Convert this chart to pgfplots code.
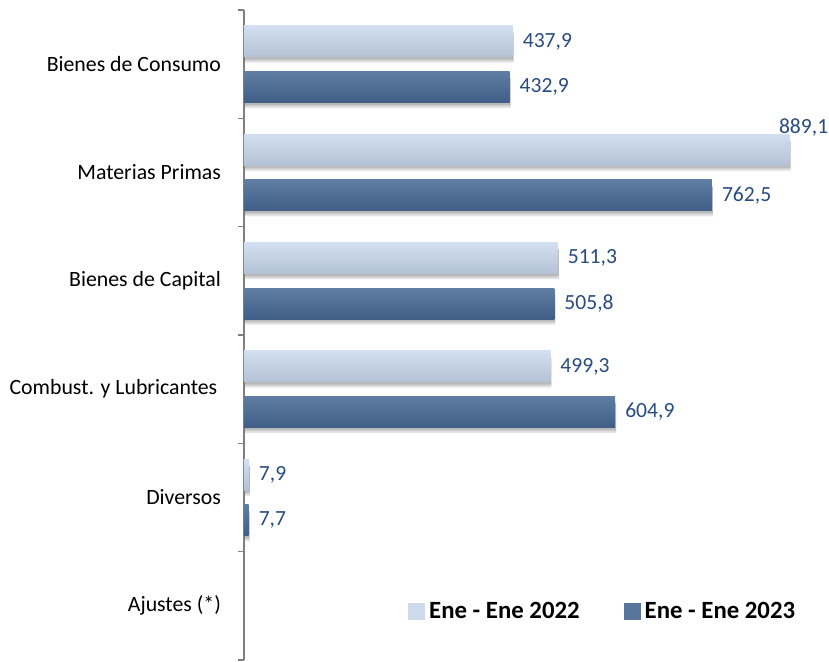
\documentclass[border=0pt]{standalone}
\usepackage{fontspec}
\setmainfont{Carlito}
\usepackage{pgfplots}
\pgfplotsset{compat=1.18}
\definecolor{lightTop}{RGB}{210,223,240}
\definecolor{lightBot}{RGB}{180,194,213}
\definecolor{darkTop}{RGB}{96,125,163}
\definecolor{darkBot}{RGB}{64,94,134}
\definecolor{legLight}{RGB}{205,218,236}
\definecolor{legDark}{RGB}{88,118,155}
\definecolor{valBlue}{RGB}{40,75,128}

\pgfplotsset{
    lightbar/.style={draw=none, top color=lightTop, bottom color=lightBot, bar shift=0.21, forget plot},
    darkbar/.style={draw=none, top color=darkTop, bottom color=darkBot, bar shift=-0.21, forget plot},
    shadowbar/.style={draw=none, fill=black, fill opacity=0.1, nodes near coords={}, xshift=0.5pt, forget plot},
}

\begin{document}
\begin{tikzpicture}
    \useasboundingbox (-122pt,-1pt) rectangle (292.5pt,330pt);
    \begin{axis}[
            at={(0,0)},
            anchor=south west,
            scale only axis,
            width=291.5pt,
            height=325pt,
            xmin=0, xmax=950,
            ymin=-0.5, ymax=5.5,
            axis x line=none,
            axis y line*=left,
            axis line style={black!50, line width=0.75pt},
            ytick={0,1,2,3,4,5},
            yticklabels={Ajustes (*), Diversos, Combust. y Lubricantes\,, Bienes de Capital, Materias Primas, Bienes de Consumo},
            major tick length=0pt,
            yticklabel style={font=\fontsize{10.9}{13}\selectfont, anchor=east, xshift=-8pt},
            extra y ticks={-0.5,0.5,1.5,2.5,3.5,4.5,5.5},
            extra y tick labels={},
            extra y tick style={major tick length=3pt, tick align=outside, tick style={black!50, line width=0.75pt}},
            xbar,
            bar width=0.285,
            point meta=x,
            nodes near coords={\pgfmathprintnumber[use comma, fixed, fixed zerofill, precision=1, assume math mode=true]{\pgfplotspointmeta}},
            nodes near coords style={font=\fontsize{10.8}{13}\selectfont, text=valBlue, xshift=1.5pt},
            clip=false,
            legend style={draw=none, fill=none, at={(0.617,0.074)}, anchor=center,
                    legend columns=2, font=\bfseries\fontsize{12.4}{14}\selectfont,
                    /tikz/every even column/.append style={column sep=20pt}},
            legend image code/.code={\fill[#1] (0pt,-4.25pt) rectangle (8.5pt,4.25pt);},
        ]

        % soft shadows under the bars
        \addplot[shadowbar, bar shift=0.155, bar width=0.28] coordinates {(437.9,5) (889.1,4) (511.3,3) (499.3,2) (7.9,1)};
        \addplot[shadowbar, bar shift=0.16, bar width=0.26] coordinates {(437.9,5) (889.1,4) (511.3,3) (499.3,2) (7.9,1)};
        \addplot[shadowbar, bar shift=0.165, bar width=0.24] coordinates {(437.9,5) (889.1,4) (511.3,3) (499.3,2) (7.9,1)};
        \addplot[shadowbar, bar shift=-0.265, bar width=0.28] coordinates {(432.9,5) (762.5,4) (505.8,3) (604.9,2) (7.7,1)};
        \addplot[shadowbar, bar shift=-0.26, bar width=0.26] coordinates {(432.9,5) (762.5,4) (505.8,3) (604.9,2) (7.7,1)};
        \addplot[shadowbar, bar shift=-0.255, bar width=0.24] coordinates {(432.9,5) (762.5,4) (505.8,3) (604.9,2) (7.7,1)};

        % Ene - Ene 2022 (light), upper bar of each pair
        \addplot[lightbar] coordinates {(437.9,5)};
        \addplot[lightbar, nodes near coords style={anchor=center, xshift=5.5pt, yshift=11pt}] coordinates {(889.1,4)};
        \addplot[lightbar] coordinates {(511.3,3)};
        \addplot[lightbar] coordinates {(499.3,2)};
        \addplot[lightbar] coordinates {(7.9,1)};

        % Ene - Ene 2023 (dark), lower bar of each pair
        \addplot[darkbar] coordinates {(432.9,5)};
        \addplot[darkbar] coordinates {(762.5,4)};
        \addplot[darkbar] coordinates {(505.8,3)};
        \addplot[darkbar] coordinates {(604.9,2)};
        \addplot[darkbar] coordinates {(7.7,1)};

        \addlegendimage{draw=none, fill=legLight}
        \addlegendentry{Ene - Ene 2022}
        \addlegendimage{draw=none, fill=legDark}
        \addlegendentry{Ene - Ene 2023}
    \end{axis}
\end{tikzpicture}
\end{document}
